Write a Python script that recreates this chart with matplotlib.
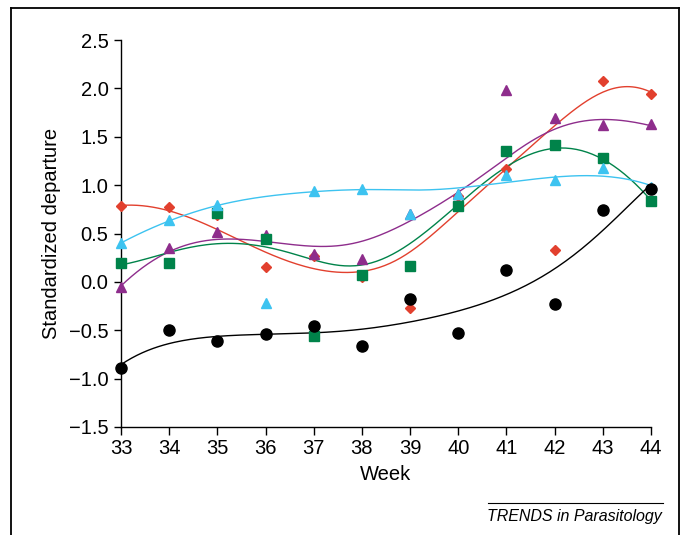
#!/usr/bin/env python3
"""Standardized departure by week, five series with robust local smoothers."""

import matplotlib

matplotlib.use("Agg")
import matplotlib.pyplot as plt
import numpy as np
from matplotlib.lines import Line2D

plt.rcParams["font.family"] = ["Liberation Sans", "DejaVu Sans"]

weeks = np.arange(33, 45)

black_vals = [-0.89, -0.50, -0.61, -0.54, -0.46, -0.66, -0.18, -0.53, 0.12, -0.23, 0.74, 0.96]
red_vals = [0.78, 0.77, 0.69, 0.15, 0.27, 0.05, -0.27, 0.89, 1.17, 0.33, 2.08, 1.94]
purple_vals = [-0.05, 0.35, 0.52, 0.48, 0.29, 0.24, 0.70, 0.91, 1.98, 1.69, 1.62, 1.63]
green_vals = [0.19, 0.20, 0.71, 0.44, -0.56, 0.07, 0.16, 0.78, 1.35, 1.41, 1.28, 0.84]
cyan_vals = [0.40, 0.64, 0.79, -0.22, 0.94, 0.96, 0.70, 0.91, 1.10, 1.05, 1.18, 0.98]

RED = "#E2402E"
PURPLE = "#8E2D8C"
GREEN = "#00834A"
CYAN = "#3DC3F0"
BLACK = "#000000"


def smoother(x, y, grid, sigma=1.6, degree=2, iters=3):
    # robust local polynomial with a fixed Gaussian kernel
    x = np.asarray(x, float)
    y = np.asarray(y, float)
    robust = np.ones(len(x))

    def fit_at(x0, rw):
        w = np.exp(-0.5 * ((x - x0) / sigma) ** 2) * rw
        coef = np.polyfit(x - x0, y, degree, w=np.sqrt(w))
        return coef[-1]

    for _ in range(iters):
        fitted = np.array([fit_at(xi, robust) for xi in x])
        resid = y - fitted
        s = np.median(np.abs(resid))
        u = resid / (6 * s)
        robust = np.where(np.abs(u) < 1, (1 - u ** 2) ** 2, 0.0)

    return np.array([fit_at(g, robust) for g in grid])


fig = plt.figure(figsize=(6.83, 5.35), dpi=100)
ax = fig.add_axes([0.1772, 0.2019, 0.9531 - 0.1772, 0.9252 - 0.2019])

grid = np.linspace(33, 44, 200)
series = [
    (red_vals, RED, "D", 5.0),
    (purple_vals, PURPLE, "^", 7.5),
    (green_vals, GREEN, "s", 7.0),
    (cyan_vals, CYAN, "^", 7.5),
    (black_vals, BLACK, "o", 8.0),
]

for i, (vals, color, marker, ms) in enumerate(series):
    smooth = smoother(weeks, vals, grid)
    ax.plot(grid, smooth, color=color, lw=1.0, zorder=2 + i, clip_on=False)
for i, (vals, color, marker, ms) in enumerate(series):
    ax.plot(weeks, vals, linestyle="none", marker=marker, ms=ms, color=color,
            mec=color, zorder=10 + i, clip_on=False)

ax.set_xlim(33, 44)
ax.set_ylim(-1.5, 2.5)
ax.set_xticks(weeks)
ax.set_yticks(np.arange(-1.5, 2.51, 0.5))
ax.set_yticklabels([f"{v:.1f}".replace("-", "\u2212") for v in np.arange(-1.5, 2.51, 0.5)])
ax.tick_params(axis="both", direction="out", labelsize=14.5, width=1.0, color="black")
ax.tick_params(axis="x", length=6, pad=3)
ax.tick_params(axis="y", length=5, pad=4)
for side in ("top", "right"):
    ax.spines[side].set_visible(False)
for side in ("left", "bottom"):
    ax.spines[side].set_linewidth(1.0)

ax.set_xlabel("Week", fontsize=14.5, labelpad=5)
ax.set_ylabel("Standardized departure", fontsize=14.5, labelpad=6)

# outer frame of the figure panel
frame_kw = dict(color="black", lw=1.3, transform=fig.transFigure)
fig.add_artist(Line2D([11 / 683, 11 / 683], [0, 1 - 8 / 535], **frame_kw))
fig.add_artist(Line2D([679 / 683, 679 / 683], [0, 1 - 8 / 535], **frame_kw))
fig.add_artist(Line2D([11 / 683, 679 / 683], [1 - 8 / 535, 1 - 8 / 535], **frame_kw))

fig.add_artist(Line2D([488 / 683, 663 / 683], [1 - 503 / 535, 1 - 503 / 535],
                      color="black", lw=0.8, transform=fig.transFigure))
fig.text(662 / 683, 1 - 516 / 535, "TRENDS in Parasitology", ha="right", va="center",
         fontsize=11.5, style="italic")

fig.savefig("out.png", dpi=100)
